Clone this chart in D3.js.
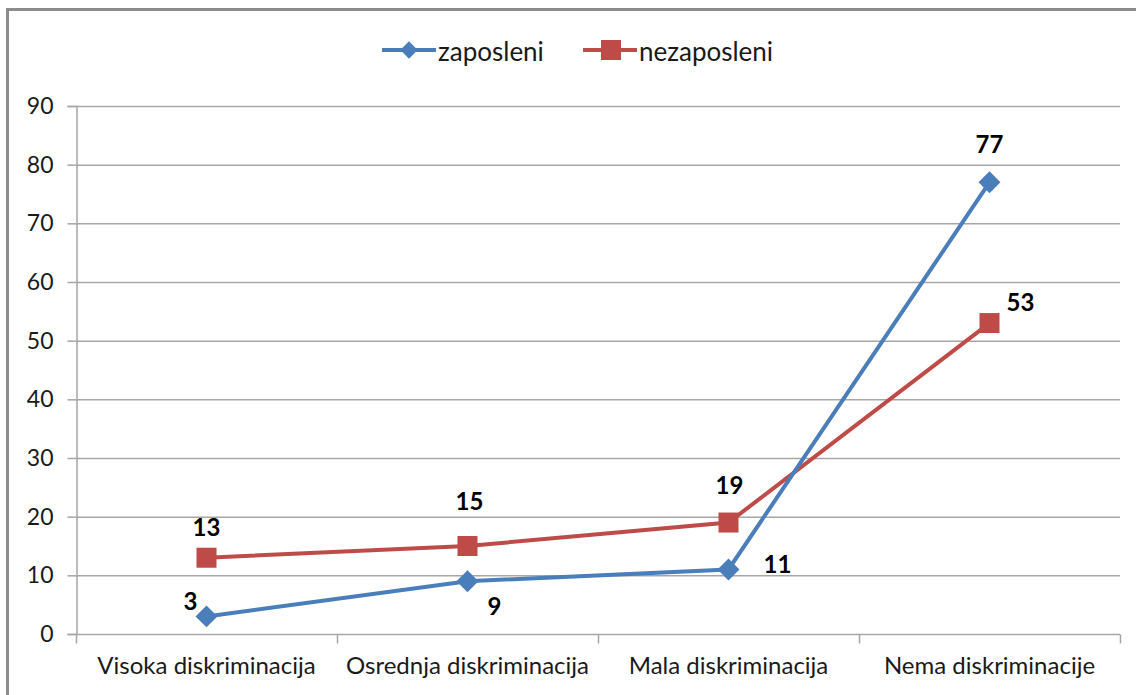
<!DOCTYPE html>
<html><head><meta charset="utf-8">
<script src="https://cdn.jsdelivr.net/npm/d3@7"></script>
<style>body{margin:0;background:#fff;} text{font-family:Lato, "Open Sans", sans-serif;}</style>
</head><body>
<svg id="c" width="1136" height="695"></svg>
<script>
const categories = ["Visoka diskriminacija","Osrednja diskriminacija","Mala diskriminacija","Nema diskriminacije"];
const zaposleni = [3, 9, 11, 77];
const nezaposleni = [13, 15, 19, 53];
const yTicks = [0,10,20,30,40,50,60,70,80,90];
const seriesNames = ["zaposleni","nezaposleni"];
const colors = ["#4a7ebb","#be4b48"];

const svg = d3.select("#c");
svg.append("rect").attr("x",7.5).attr("y",9.5).attr("width",1140).attr("height",700)
  .attr("fill","#fff").attr("stroke","#8c8c8c").attr("stroke-width",3);

const m = {l:76, r:1120, t:106, b:634};
const x = d3.scaleBand().domain(categories).range([m.l,m.r]);
const y = d3.scaleLinear().domain([0,90]).range([m.b,m.t]);

svg.append("g").selectAll("line").data(yTicks.filter(d=>d>0)).join("line")
  .attr("x1",m.l).attr("x2",m.r).attr("y1",d=>y(d)+0.5).attr("y2",d=>y(d)+0.5)
  .attr("stroke","#a6a6a6").attr("stroke-width",1.5);

const ya = svg.append("g").attr("transform",`translate(${m.l+0.5},0)`)
  .call(d3.axisLeft(y).tickValues(yTicks).tickSize(9).tickPadding(14));
ya.select(".domain").attr("stroke","#a6a6a6").attr("stroke-width",1.5);
ya.selectAll(".tick line").attr("stroke","#a6a6a6").attr("stroke-width",1.5);
ya.selectAll("text").attr("font-size",23).attr("fill","#1a1a1a").style("font-family","Lato, sans-serif");

const xa = svg.append("g").attr("transform",`translate(0,${m.b+0.5})`)
  .call(d3.axisBottom(x).tickSize(0).tickPadding(22));
xa.select(".domain").remove();
xa.append("line").attr("x1",m.l).attr("x2",m.r).attr("stroke","#a6a6a6").attr("stroke-width",1.5);
const bounds = categories.map(c=>x(c)).concat([m.r]);
xa.selectAll(".xt").data(bounds).join("line").attr("x1",d=>d+0.5).attr("x2",d=>d+0.5).attr("y1",0).attr("y2",9)
  .attr("stroke","#a6a6a6").attr("stroke-width",1.5);
xa.selectAll(".tick text").attr("font-size",24).attr("fill","#1a1a1a").style("font-family","Lato, sans-serif");

const cx = c => x(c) + x.bandwidth()/2;
const line = d3.line().x((d,i)=>cx(categories[i])).y(d=>y(d));

svg.append("path").datum(nezaposleni).attr("d",line).attr("fill","none").attr("stroke",colors[1]).attr("stroke-width",4);
svg.append("path").datum(zaposleni).attr("d",line).attr("fill","none").attr("stroke",colors[0]).attr("stroke-width",4);

svg.append("g").selectAll("rect").data(nezaposleni).join("rect")
  .attr("x",(d,i)=>cx(categories[i])-10).attr("y",d=>y(d)-10).attr("width",20).attr("height",20).attr("fill",colors[1]);
svg.append("g").selectAll("path").data(zaposleni).join("path")
  .attr("d",d3.symbol(d3.symbolSquare, 240)())
  .attr("transform",(d,i)=>`translate(${cx(categories[i])},${y(d)}) rotate(45)`)
  .attr("fill",colors[0]);

const zOff = [[-16,-16],[27,24],[49,-6],[0,-39]];
const nOff = [[0,-31],[2,-46],[1,-38],[31,-22]];
svg.append("g").selectAll("text").data(zaposleni).join("text")
  .attr("x",(d,i)=>cx(categories[i])+zOff[i][0]).attr("y",(d,i)=>y(d)+zOff[i][1])
  .attr("text-anchor","middle").attr("dominant-baseline","central")
  .attr("font-size",24).attr("font-weight","bold").attr("fill","#000").text(d=>d);
svg.append("g").selectAll("text").data(nezaposleni).join("text")
  .attr("x",(d,i)=>cx(categories[i])+nOff[i][0]).attr("y",(d,i)=>y(d)+nOff[i][1])
  .attr("text-anchor","middle").attr("dominant-baseline","central")
  .attr("font-size",24).attr("font-weight","bold").attr("fill","#000").text(d=>d);

const lg = svg.append("g");
const legX = [382, 583];
seriesNames.forEach((n,i)=>{
  const g = lg.append("g").attr("transform",`translate(${legX[i]},50)`);
  g.append("line").attr("x1",0).attr("x2",54).attr("stroke",colors[i]).attr("stroke-width",4);
  if(i===0) g.append("path").attr("d",d3.symbol(d3.symbolSquare,150)()).attr("transform","translate(27,0) rotate(45)").attr("fill",colors[i]);
  else g.append("rect").attr("x",18).attr("y",-10).attr("width",20).attr("height",20).attr("fill",colors[i]);
  g.append("text").attr("x",56).attr("y",1).attr("dominant-baseline","central").attr("font-size",26).attr("fill","#1a1a1a").text(n);
});
</script>
</body></html>
